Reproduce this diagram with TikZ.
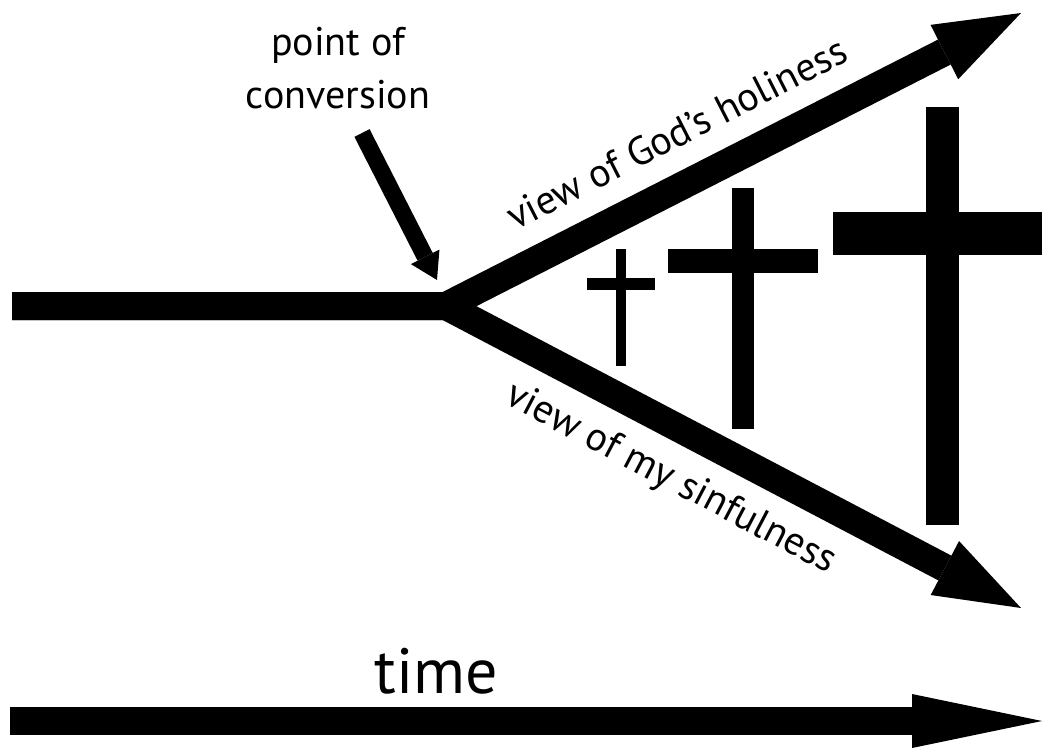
\documentclass[tikz,border=0pt]{standalone}
\usepackage{fontspec}
\setmainfont{PT Sans}
\usetikzlibrary{arrows.meta}

\begin{document}
\begin{tikzpicture}[
    x=1pt, y=-1pt,
    shaft/.style={line width=28pt, line join=miter, -{Triangle[length=86pt, width=61pt, line width=0pt]}},
    pointer/.style={line width=17pt, -{Triangle[length=26pt, width=32pt, line width=0pt]}},
    timeline/.style={line width=28pt, -{Triangle[length=130pt, width=54pt, line width=0pt]}},
    label/.style={font=\fontsize{40}{53}\selectfont, inner sep=0pt}
]
\useasboundingbox (0,0) rectangle (1042,750);

\coordinate (start) at (12,306);
\coordinate (fork) at (446,306);
\coordinate (holy) at (1021,13);
\coordinate (sin) at (1021,608);

% the two views growing apart
\draw[shaft] (start) -- (fork) -- node[label, sloped, above=21pt, pos=0.44] (holylabel) {view of God’s holiness} (holy);
\draw[shaft] (start) -- (fork) -- node[label, sloped, below=17pt, pos=0.43] (sinlabel) {view of my sinfulness} (sin);

\node[label, align=center, anchor=north] (conv) at (338,27) {point of\\conversion};
\coordinate (pstart) at (362,133);
\coordinate (ptip) at (437,280);
\draw[pointer] (pstart) -- (ptip);

% crosses
\fill (616,249) rectangle (626,366);
\fill (587,278) rectangle (655,290);
\fill (732,188) rectangle (754,429);
\fill (668,249) rectangle (818,273);
\fill (926,107) rectangle (959,525);
\fill (833,212) rectangle (1042,255);

\node[font=\fontsize{64}{70}\selectfont, anchor=base, inner sep=0pt] (time) at (436,693) {time};
\coordinate (t0) at (10,721);
\coordinate (t1) at (1042,721);
\draw[timeline] (t0) -- (t1);

\end{tikzpicture}
\end{document}
